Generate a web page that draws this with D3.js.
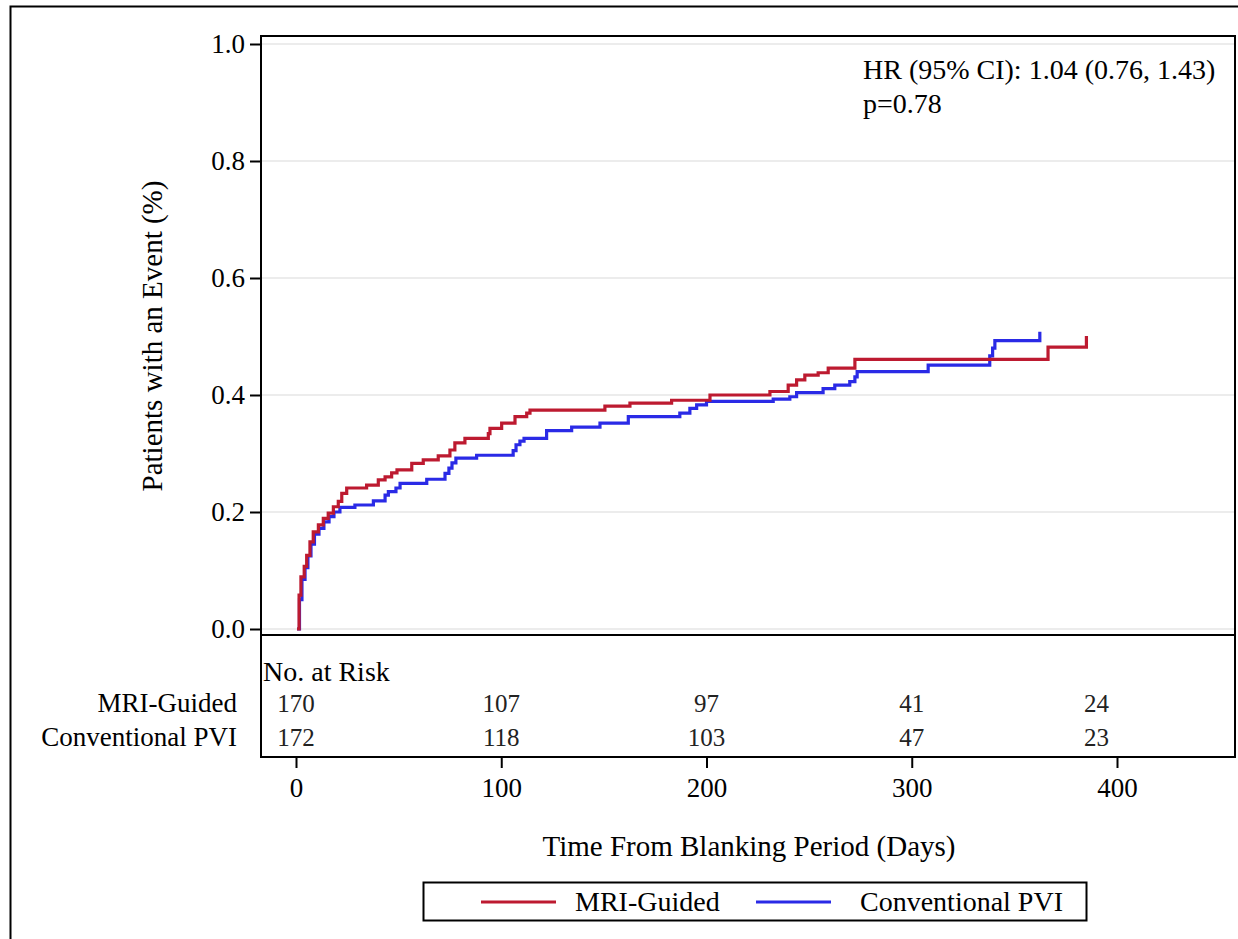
<!DOCTYPE html>
<html>
<head>
<meta charset="utf-8">
<title>Cumulative incidence</title>
<script src="https://d3js.org/d3.v7.min.js"></script>
<style>
  body { margin: 0; background: #fff; }
  svg text { font-family: "Liberation Serif", "Times New Roman", Times, "DejaVu Serif", serif; fill: #000; }
</style>
</head>
<body>
<div id="chart"></div>
<script>
// groups
const groups = ["MRI-Guided", "Conventional PVI"];
const colors = ["#bd1a30", "#2a2ae6"];

// step curves: [day, proportion with event]
const mriSteps = [
  [0.5, 0], [1.5, 0.058], [2.4, 0.089], [4.0, 0.107], [5.2, 0.126], [6.8, 0.149],
  [8.4, 0.166], [10.9, 0.178], [13.3, 0.189], [15.7, 0.198], [18.2, 0.209],
  [20.6, 0.218], [22.3, 0.232], [24.7, 0.241], [34.4, 0.246], [40.1, 0.255],
  [43.4, 0.260], [46.6, 0.267], [49.2, 0.272], [56.4, 0.283], [62.0, 0.289],
  [69.3, 0.296], [75.0, 0.306], [77.4, 0.318], [82.3, 0.326], [93.7, 0.334],
  [94.5, 0.343], [100.2, 0.352], [106.7, 0.363], [112.4, 0.369], [114.0, 0.374],
  [150.5, 0.381], [162.7, 0.386], [183.0, 0.391], [201.7, 0.400], [230.9, 0.406],
  [239.8, 0.417], [243.9, 0.426], [247.9, 0.434], [254.4, 0.438], [259.3, 0.446],
  [272.3, 0.461], [366.4, 0.482], [385.1, 0.501]
];
const pviSteps = [
  [0.5, 0], [1.7, 0.050], [2.9, 0.085], [4.4, 0.105], [5.8, 0.125], [7.3, 0.145],
  [9.0, 0.162], [11.2, 0.172], [13.6, 0.183], [16.1, 0.192], [18.5, 0.200],
  [21.4, 0.208], [28.7, 0.212], [37.7, 0.219], [43.4, 0.229], [45.0, 0.235],
  [48.7, 0.241], [50.7, 0.249], [63.7, 0.256], [72.6, 0.266], [74.5, 0.275],
  [76.0, 0.284], [77.9, 0.292], [88.0, 0.297], [105.8, 0.305], [107.2, 0.315],
  [109.1, 0.321], [111.1, 0.326], [122.1, 0.339], [134.3, 0.345], [148.1, 0.352],
  [161.9, 0.363], [187.0, 0.369], [191.9, 0.377], [195.2, 0.383], [200.0, 0.389],
  [232.5, 0.393], [240.6, 0.397], [243.9, 0.404], [256.8, 0.411], [262.5, 0.417],
  [269.8, 0.423], [272.3, 0.431], [273.4, 0.440], [308.0, 0.451], [338.0, 0.467],
  [339.4, 0.480], [340.5, 0.493], [362.4, 0.508]
];

// axes ticks
const xTicks = [0, 100, 200, 300, 400];
const yTicks = [0, 0.2, 0.4, 0.6, 0.8, 1.0];

// number at risk
const riskDays = [0, 100, 200, 300, 390];
const mriRisk = [170, 107, 97, 41, 24];
const pviRisk = [172, 118, 103, 47, 23];

const annotation = ["HR (95% CI): 1.04 (0.76, 1.43)", "p=0.78"];

const W = 1238, H = 939;
const frame = {left: 261, right: 1235, top: 36, plotBottom: 635, bottom: 757};

const svg = d3.select("#chart").append("svg")
  .attr("width", W).attr("height", H);

// outer border
svg.append("rect")
  .attr("x", 10.5).attr("y", 6.5)
  .attr("width", 1240).attr("height", 960)
  .attr("fill", "none").attr("stroke", "#000").attr("stroke-width", 2);

const x = d3.scaleLinear().domain([0, 400]).range([296, 1117]);
const y = d3.scaleLinear().domain([0, 1]).range([629, 44]);

// gridlines
svg.append("g").selectAll("line")
  .data(yTicks).enter().append("line")
  .attr("x1", frame.left).attr("x2", frame.right)
  .attr("y1", d => y(d)).attr("y2", d => y(d))
  .attr("stroke", "#e6e6e6").attr("stroke-width", 1.5);

// y axis
const yAxis = d3.axisLeft(y).tickValues(yTicks).tickFormat(d3.format(".1f")).tickSize(11).tickPadding(5);
const gy = svg.append("g")
  .attr("transform", "translate(" + frame.left + ",0)")
  .call(yAxis);
gy.select(".domain").remove();
gy.selectAll("line").attr("stroke", "#000").attr("stroke-width", 2);
gy.selectAll("text").style("font-size", "27px");

// x axis below the risk table
const xAxis = d3.axisBottom(x).tickValues(xTicks).tickSize(11).tickPadding(10);
const gx = svg.append("g")
  .attr("transform", "translate(0," + frame.bottom + ")")
  .call(xAxis);
gx.select(".domain").remove();
gx.selectAll("line").attr("stroke", "#000").attr("stroke-width", 2);
gx.selectAll("text").style("font-size", "27px");

// curves
const line = d3.line()
  .x(d => x(d[0])).y(d => y(d[1]))
  .curve(d3.curveStepAfter);

[pviSteps, mriSteps].forEach(function(s, i) {
  svg.append("path")
    .datum(s)
    .attr("d", line)
    .attr("fill", "none")
    .attr("stroke", colors[1 - i])
    .attr("stroke-width", 3.2);
});

// frame
svg.append("rect")
  .attr("x", frame.left).attr("y", frame.top)
  .attr("width", frame.right - frame.left).attr("height", frame.bottom - frame.top)
  .attr("fill", "none").attr("stroke", "#000").attr("stroke-width", 2);
svg.append("line")
  .attr("x1", frame.left).attr("x2", frame.right)
  .attr("y1", frame.plotBottom).attr("y2", frame.plotBottom)
  .attr("stroke", "#000").attr("stroke-width", 2);

// annotation
svg.selectAll(".ann")
  .data(annotation).enter().append("text")
  .attr("class", "ann")
  .attr("x", 863)
  .attr("y", (d, i) => 79 + i * 34)
  .style("font-size", "28px")
  .text(d => d);

// risk table
svg.append("text")
  .attr("x", 263).attr("y", 681)
  .style("font-size", "28px")
  .text("No. at Risk");

[mriRisk, pviRisk].forEach(function(row, r) {
  const ry = 712 + r * 34;
  svg.append("text")
    .attr("x", 237).attr("y", ry)
    .attr("text-anchor", "end")
    .style("font-size", "27px")
    .text(groups[r]);
  svg.selectAll(".risk" + r)
    .data(row).enter().append("text")
    .attr("class", "risk" + r)
    .attr("x", (d, i) => x(riskDays[i]))
    .attr("y", ry)
    .attr("text-anchor", "middle")
    .style("font-size", "25px")
    .style("fill", "#222")
    .text(d => d);
});

// axis titles
svg.append("text")
  .attr("x", 749).attr("y", 856)
  .attr("text-anchor", "middle")
  .style("font-size", "29px")
  .text("Time From Blanking Period (Days)");

svg.append("text")
  .attr("transform", "translate(162,336) rotate(-90)")
  .attr("text-anchor", "middle")
  .style("font-size", "29px")
  .text("Patients with an Event (%)");

// legend
const lg = svg.append("g");
lg.append("rect")
  .attr("x", 423.5).attr("y", 882.5)
  .attr("width", 663).attr("height", 38)
  .attr("fill", "none").attr("stroke", "#000").attr("stroke-width", 2);
const legendItems = [{x0: 481, tx: 575}, {x0: 756, tx: 860}];
legendItems.forEach(function(it, i) {
  lg.append("line")
    .attr("x1", it.x0).attr("x2", it.x0 + 75)
    .attr("y1", 902).attr("y2", 902)
    .attr("stroke", colors[i]).attr("stroke-width", 3.2);
  lg.append("text")
    .attr("x", it.tx).attr("y", 911)
    .style("font-size", "28px")
    .text(groups[i]);
});
</script>
</body>
</html>
